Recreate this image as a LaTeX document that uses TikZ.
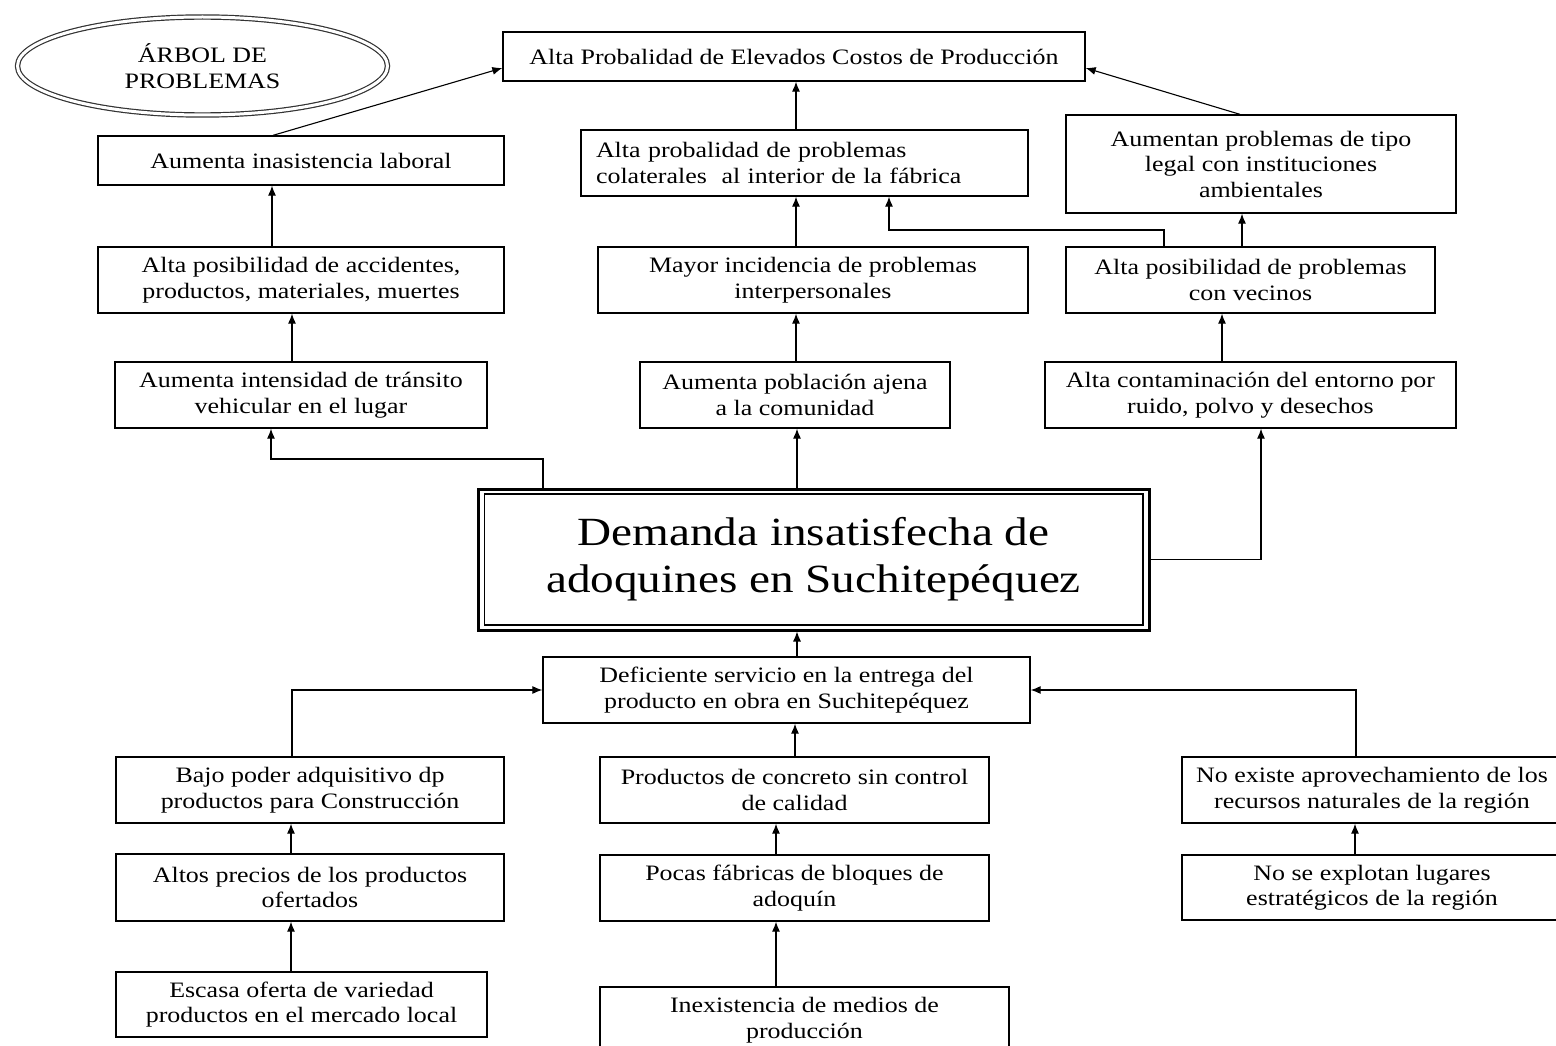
\documentclass[tikz,border=0pt]{standalone}
\usepackage{fontspec}
\setmainfont{Liberation Serif}[FakeStretch=1.18]
\usetikzlibrary{arrows.meta,shapes.geometric}

\begin{document}
\begin{tikzpicture}[->,>={Latex[length=10pt,width=8pt]},x=1pt,y=-1pt,
      line width=1.1pt,
      prob/.style 2 args={draw,rectangle,line width=1.3pt,align=center,
        inner sep=0pt,minimum width=#1,minimum height=#2,
        font=\fontsize{22}{25.5}\selectfont}]
      \useasboundingbox (0,0) rectangle (1556,1046);

      % titulo
      \node[ellipse,draw=black!80,double,double distance=3pt,line width=1.2pt,
        minimum width=370pt,minimum height=98pt,inner sep=0pt,align=center,
        font=\fontsize{22}{25.5}\selectfont] (titulo) at (202.5,66) {ÁRBOL DE\\PROBLEMAS};

      % efectos
      \node[prob={582pt}{49pt}] (costos) at (794,56.5) {Alta Probalidad de Elevados Costos de Producción};
      \node[prob={406pt}{49pt}] (inasist) at (301,160.5) {Aumenta inasistencia laboral};
      \node[prob={406pt}{66pt}] (accid) at (301,280) {Alta posibilidad de accidentes,\\productos, materiales, muertes};
      \node[prob={372pt}{66pt}] (transito) at (301,395) {Aumenta intensidad de tránsito\\vehicular en el lugar};
      \node[prob={447pt}{66pt},align=left,text width=417pt,inner xsep=15pt] (colat) at (804.5,163)
        {Alta probalidad de problemas\\colaterales\ \ al interior de la fábrica};
      \node[prob={430pt}{66pt}] (mayor) at (813,280) {Mayor incidencia de problemas\\interpersonales};
      \node[prob={310pt}{66pt}] (poblac) at (795,395) {Aumenta población ajena\\a la comunidad};
      \node[prob={390pt}{98pt}] (legal) at (1261,164) {Aumentan problemas de tipo\\legal con instituciones\\ambientales};
      \node[prob={369pt}{66pt}] (vecinos) at (1250.5,280) {Alta posibilidad de problemas\\con vecinos};
      \node[prob={411pt}{66pt}] (contam) at (1250.5,395) {Alta contaminación del entorno por\\ruido, polvo y desechos};

      % problema central
      \node[prob={671pt}{141pt},line width=3pt,font=\fontsize{40}{47}\selectfont] (demanda) at (813.5,559.5)
        {Demanda insatisfecha de\\adoquines en Suchitepéquez};
      \draw[-,line width=1.4pt] ([shift={(8pt,-6.5pt)}]demanda.north west) rectangle ([shift={(-7.5pt,6.5pt)}]demanda.south east);

      % causas
      \node[prob={487pt}{66pt}] (defic) at (786.5,690) {Deficiente servicio en la entrega del\\producto en obra en Suchitepéquez};
      \node[prob={388pt}{66pt}] (bajo) at (310,790) {Bajo poder adquisitivo dp\\productos para Construcción};
      \node[prob={388pt}{67pt}] (altos) at (310,887.5) {Altos precios de los productos\\ofertados};
      \node[prob={371pt}{65pt}] (escasa) at (301.5,1004.5) {Escasa oferta de variedad\\productos en el mercado local};
      \node[prob={389pt}{66pt}] (concreto) at (794.5,790) {Productos de concreto sin control\\de calidad};
      \node[prob={389pt}{66pt}] (pocas) at (794.5,888) {Pocas fábricas de bloques de\\adoquín};
      \node[prob={409pt}{66pt}] (inexist) at (804.5,1020) {Inexistencia de medios de\\producción};
      \node[prob={380pt}{66pt}] (noexiste) at (1372,790) {No existe aprovechamiento de los\\recursos naturales de la región};
      \node[prob={380pt}{65pt}] (noexplotan) at (1372,887.5) {No se explotan lugares\\estratégicos de la región};

      % efectos, izquierda
      \draw (273,0 |- inasist.north) -- (costos.west |- 0,68);
      \draw (272,0 |- accid.north) -- (272,0 |- inasist.south);
      \draw (292,0 |- transito.north) -- (292,0 |- accid.south);
      \draw (543,0 |- demanda.north) -- (543,459) -| (271,0 |- transito.south);
      % efectos, centro
      \draw (796,0 |- colat.north) -- (796,0 |- costos.south);
      \draw (796,0 |- mayor.north) -- (796,0 |- colat.south);
      \draw (796,0 |- poblac.north) -- (796,0 |- mayor.south);
      \draw (797,0 |- demanda.north) -- (797,0 |- poblac.south);
      % efectos, derecha
      \draw (demanda.east) -| (1261,0 |- contam.south);
      \draw (1222,0 |- contam.north) -- (1222,0 |- vecinos.south);
      \draw (1242,0 |- vecinos.north) -- (1242,0 |- legal.south);
      \draw (1164,0 |- vecinos.north) -- (1164,230) -| (889,0 |- colat.south);
      \draw (1240,0 |- legal.north) -- (costos.east |- 0,68);

      % causas
      \draw (797,0 |- defic.north) -- (797,0 |- demanda.south);
      \draw (292,0 |- bajo.north) |- (defic.west);
      \draw (291,0 |- altos.north) -- (291,0 |- bajo.south);
      \draw (291,0 |- escasa.north) -- (291,0 |- altos.south);
      \draw (795,0 |- concreto.north) -- (795,0 |- defic.south);
      \draw (776,0 |- pocas.north) -- (776,0 |- concreto.south);
      \draw (776,0 |- inexist.north) -- (776,0 |- pocas.south);
      \draw (1356,0 |- noexiste.north) |- (defic.east);
      \draw (1355,0 |- noexplotan.north) -- (1355,0 |- noexiste.south);
\end{tikzpicture}
\end{document}
